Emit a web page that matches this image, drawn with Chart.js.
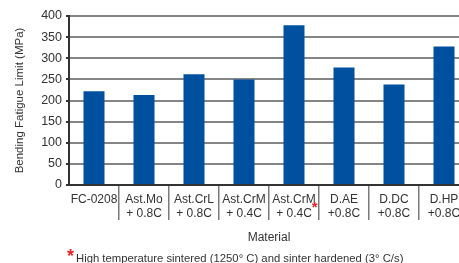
<!DOCTYPE html>
<html>
<head>
<meta charset="utf-8">
<script src="https://cdn.jsdelivr.net/npm/chart.js@4/dist/chart.umd.min.js"></script>
<style>
  html, body { margin: 0; padding: 0; background: #fff; overflow: hidden; }
  #wrap { position: relative; width: 459px; height: 263px; overflow: hidden; }
</style>
</head>
<body>
<div id="wrap"><canvas id="fatigueChart" width="470" height="263"></canvas></div>
<script>
// Bending fatigue limit per material (MPa)
const materials = [
  ['FC-0208'],
  ['Ast.Mo', '+ 0.8C'],
  ['Ast.CrL', '+ 0.8C'],
  ['Ast.CrM', '+ 0.4C'],
  ['Ast.CrM', '+ 0.4C'],
  ['D.AE', '+0.8C'],
  ['D.DC', '+0.8C'],
  ['D.HP', '+0.8C']
];
const fatigueLimit = [222, 213, 262, 250, 378, 278, 238, 328];
const starredIndex = 4;
const yTitle = 'Bending Fatigue Limit (MPa)';
const xTitle = 'Material';
const footnote = 'High temperature sintered (1250\u00b0 C) and sinter hardened (3\u00b0 C/s)';

const FONT = "'Liberation Sans', Arial, sans-serif";
const TEXT = '#333333';

Chart.defaults.font.family = FONT;
Chart.defaults.color = TEXT;

// red asterisks: one on the starred label, one in front of the footnote
const notesPlugin = {
  id: 'notes',
  afterDraw(chart) {
    const ctx = chart.ctx;
    const x = chart.scales.x;
    ctx.save();
    ctx.font = '12px ' + FONT;
    const w = ctx.measureText(materials[starredIndex][1]).width;
    const cx = x.getPixelForTick(starredIndex);
    ctx.fillStyle = '#e8202a';
    ctx.font = 'bold 15px ' + FONT;
    ctx.textBaseline = 'middle';
    ctx.textAlign = 'left';
    ctx.fillText('*', cx + w / 2, 208);

    ctx.font = 'bold 18px ' + FONT;
    ctx.fillText('*', 67, 257);
    ctx.fillStyle = TEXT;
    ctx.font = '11.3px ' + FONT;
    ctx.textBaseline = 'alphabetic';
    ctx.fillText(footnote, 76, 262);
    ctx.restore();
  }
};

const ctx = document.getElementById('fatigueChart').getContext('2d');
const fatigueChart = new Chart(ctx, {
  type: 'bar',
  data: {
    labels: materials,
    datasets: [{
      label: yTitle,
      data: fatigueLimit,
      backgroundColor: '#0050a0',
      borderWidth: 0,
      barPercentage: 0.42,
      categoryPercentage: 1
    }]
  },
  options: {
    responsive: false,
    animation: false,
    devicePixelRatio: 1,
    layout: { padding: { top: 16, right: 1, left: 0, bottom: 0 } },
    plugins: {
      legend: { display: false },
      tooltip: { enabled: false }
    },
    scales: {
      y: {
        min: 0,
        max: 400,
        afterFit(scale) { scale.width = 69; },
        ticks: { stepSize: 50, padding: 4, color: TEXT, font: { size: 12.5 } },
        grid: { color: '#858585', lineWidth: 2, tickLength: 3, tickColor: '#333' },
        border: { display: true, color: '#333', width: 2 },
        title: {
          display: true,
          text: yTitle,
          color: TEXT,
          font: { size: 11.5 },
          padding: { top: 13, bottom: 0 }
        }
      },
      x: {
        afterFit(scale) { scale.height = 78; },
        ticks: {
          color: TEXT,
          padding: -28,
          font: { size: 12, lineHeight: 1.2 },
          maxRotation: 0,
          autoSkip: false
        },
        grid: {
          offset: true,
          drawOnChartArea: false,
          tickLength: 35,
          lineWidth: 1.5,
          tickColor: c => (c.index === 0 ? 'rgba(0,0,0,0)' : '#7a7a7a')
        },
        border: { display: true, color: '#333', width: 2 },
        title: {
          display: true,
          text: xTitle,
          color: TEXT,
          font: { size: 12 },
          padding: { top: 0, bottom: 18 }
        }
      }
    }
  },
  plugins: [notesPlugin]
});
</script>
</body>
</html>
